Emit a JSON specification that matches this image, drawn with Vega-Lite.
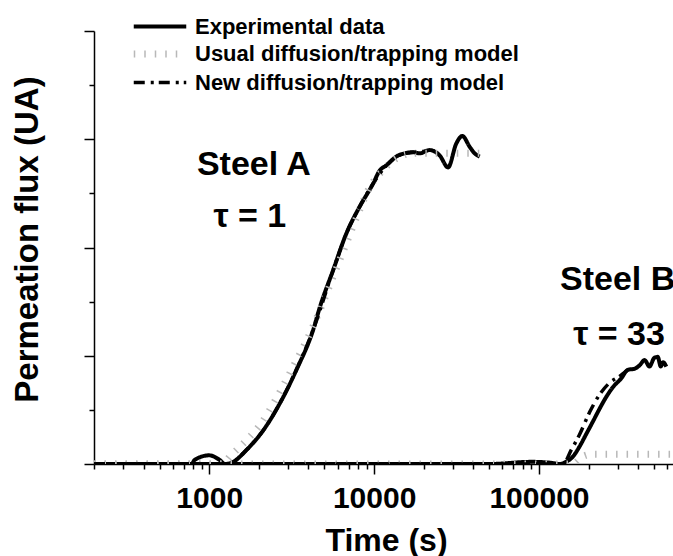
{
  "$schema": "https://vega.github.io/schema/vega-lite/v6.json",
  "autosize": "none",
  "width": 579,
  "height": 433,
  "padding": {"left": 94, "top": 31, "right": 0, "bottom": 92},
  "background": "white",
  "config": {
    "view": {"stroke": null},
    "font": "Liberation Sans",
    "axis": {"grid": false, "domainColor": "black", "domainWidth": 1.5, "tickColor": "black", "tickWidth": 1.5}
  },
  "datasets": {
    "curves": [
      {"t": 200, "v": 0, "series": "Experimental data", "steel": "A"},
      {"t": 500, "v": 0, "series": "Experimental data", "steel": "A"},
      {"t": 780, "v": 0, "series": "Experimental data", "steel": "A"},
      {"t": 818, "v": 0.04, "series": "Experimental data", "steel": "A"},
      {"t": 1000, "v": 0.08, "series": "Experimental data", "steel": "A"},
      {"t": 1150, "v": 0.04, "series": "Experimental data", "steel": "A"},
      {"t": 1245, "v": 0.0, "series": "Experimental data", "steel": "A"},
      {"t": 1397, "v": 0.02, "series": "Experimental data", "steel": "A"},
      {"t": 1683, "v": 0.13, "series": "Experimental data", "steel": "A"},
      {"t": 2124, "v": 0.31, "series": "Experimental data", "steel": "A"},
      {"t": 2680, "v": 0.56, "series": "Experimental data", "steel": "A"},
      {"t": 3380, "v": 0.87, "series": "Experimental data", "steel": "A"},
      {"t": 4270, "v": 1.24, "series": "Experimental data", "steel": "A"},
      {"t": 4690, "v": 1.45, "series": "Experimental data", "steel": "A"},
      {"t": 5640, "v": 1.79, "series": "Experimental data", "steel": "A"},
      {"t": 6790, "v": 2.13, "series": "Experimental data", "steel": "A"},
      {"t": 8190, "v": 2.38, "series": "Experimental data", "steel": "A"},
      {"t": 9860, "v": 2.59, "series": "Experimental data", "steel": "A"},
      {"t": 10800, "v": 2.71, "series": "Experimental data", "steel": "A"},
      {"t": 11900, "v": 2.76, "series": "Experimental data", "steel": "A"},
      {"t": 14000, "v": 2.85, "series": "Experimental data", "steel": "A"},
      {"t": 17200, "v": 2.88, "series": "Experimental data", "steel": "A"},
      {"t": 18900, "v": 2.87, "series": "Experimental data", "steel": "A"},
      {"t": 21700, "v": 2.9, "series": "Experimental data", "steel": "A"},
      {"t": 25000, "v": 2.85, "series": "Experimental data", "steel": "A"},
      {"t": 28100, "v": 2.74, "series": "Experimental data", "steel": "A"},
      {"t": 31500, "v": 2.96, "series": "Experimental data", "steel": "A"},
      {"t": 34300, "v": 3.03, "series": "Experimental data", "steel": "A"},
      {"t": 38000, "v": 2.93, "series": "Experimental data", "steel": "A"},
      {"t": 40700, "v": 2.87, "series": "Experimental data", "steel": "A"},
      {"t": 43700, "v": 2.84, "series": "Experimental data", "steel": "A"},

      {"t": 200, "v": 0, "series": "Experimental data", "steel": "B"},
      {"t": 10000, "v": 0, "series": "Experimental data", "steel": "B"},
      {"t": 50000, "v": 0, "series": "Experimental data", "steel": "B"},
      {"t": 90000, "v": 0.02, "series": "Experimental data", "steel": "B"},
      {"t": 120000, "v": 0.01, "series": "Experimental data", "steel": "B"},
      {"t": 133000, "v": 0, "series": "Experimental data", "steel": "B"},
      {"t": 146000, "v": 0.02, "series": "Experimental data", "steel": "B"},
      {"t": 161000, "v": 0.07, "series": "Experimental data", "steel": "B"},
      {"t": 176000, "v": 0.16, "series": "Experimental data", "steel": "B"},
      {"t": 194000, "v": 0.28, "series": "Experimental data", "steel": "B"},
      {"t": 212000, "v": 0.39, "series": "Experimental data", "steel": "B"},
      {"t": 233000, "v": 0.51, "series": "Experimental data", "steel": "B"},
      {"t": 256000, "v": 0.62, "series": "Experimental data", "steel": "B"},
      {"t": 281000, "v": 0.71, "series": "Experimental data", "steel": "B"},
      {"t": 315000, "v": 0.79, "series": "Experimental data", "steel": "B"},
      {"t": 346000, "v": 0.87, "series": "Experimental data", "steel": "B"},
      {"t": 380000, "v": 0.88, "series": "Experimental data", "steel": "B"},
      {"t": 407000, "v": 0.91, "series": "Experimental data", "steel": "B"},
      {"t": 437000, "v": 0.96, "series": "Experimental data", "steel": "B"},
      {"t": 468000, "v": 0.9, "series": "Experimental data", "steel": "B"},
      {"t": 500000, "v": 0.98, "series": "Experimental data", "steel": "B"},
      {"t": 525000, "v": 0.99, "series": "Experimental data", "steel": "B"},
      {"t": 548000, "v": 0.9, "series": "Experimental data", "steel": "B"},
      {"t": 565000, "v": 0.94, "series": "Experimental data", "steel": "B"},
      {"t": 592000, "v": 0.9, "series": "Experimental data", "steel": "B"},

      {"t": 200, "v": 0, "series": "Usual diffusion/trapping model", "steel": "A"},
      {"t": 1200, "v": 0, "series": "Usual diffusion/trapping model", "steel": "A"},
      {"t": 1334, "v": 0.07, "series": "Usual diffusion/trapping model", "steel": "A"},
      {"t": 1683, "v": 0.22, "series": "Usual diffusion/trapping model", "steel": "A"},
      {"t": 2030, "v": 0.36, "series": "Usual diffusion/trapping model", "steel": "A"},
      {"t": 2560, "v": 0.61, "series": "Usual diffusion/trapping model", "steel": "A"},
      {"t": 3230, "v": 0.9, "series": "Usual diffusion/trapping model", "steel": "A"},
      {"t": 3890, "v": 1.14, "series": "Usual diffusion/trapping model", "steel": "A"},
      {"t": 4690, "v": 1.42, "series": "Usual diffusion/trapping model", "steel": "A"},
      {"t": 5640, "v": 1.73, "series": "Usual diffusion/trapping model", "steel": "A"},
      {"t": 6790, "v": 2.04, "series": "Usual diffusion/trapping model", "steel": "A"},
      {"t": 8190, "v": 2.35, "series": "Usual diffusion/trapping model", "steel": "A"},
      {"t": 9420, "v": 2.56, "series": "Usual diffusion/trapping model", "steel": "A"},
      {"t": 10800, "v": 2.68, "series": "Usual diffusion/trapping model", "steel": "A"},
      {"t": 14300, "v": 2.84, "series": "Usual diffusion/trapping model", "steel": "A"},
      {"t": 17200, "v": 2.87, "series": "Usual diffusion/trapping model", "steel": "A"},
      {"t": 34600, "v": 2.87, "series": "Usual diffusion/trapping model", "steel": "A"},
      {"t": 43700, "v": 2.87, "series": "Usual diffusion/trapping model", "steel": "A"},

      {"t": 200, "v": 0, "series": "Usual diffusion/trapping model", "steel": "B"},
      {"t": 160000, "v": 0, "series": "Usual diffusion/trapping model", "steel": "B"},
      {"t": 185000, "v": 0.07, "series": "Usual diffusion/trapping model", "steel": "B"},
      {"t": 210000, "v": 0.09, "series": "Usual diffusion/trapping model", "steel": "B"},
      {"t": 650000, "v": 0.09, "series": "Usual diffusion/trapping model", "steel": "B"},

      {"t": 200, "v": 0, "series": "New diffusion/trapping model", "steel": "A"},
      {"t": 1300, "v": 0, "series": "New diffusion/trapping model", "steel": "A"},
      {"t": 1683, "v": 0.13, "series": "New diffusion/trapping model", "steel": "A"},
      {"t": 2124, "v": 0.31, "series": "New diffusion/trapping model", "steel": "A"},
      {"t": 2680, "v": 0.56, "series": "New diffusion/trapping model", "steel": "A"},
      {"t": 3380, "v": 0.87, "series": "New diffusion/trapping model", "steel": "A"},
      {"t": 4270, "v": 1.24, "series": "New diffusion/trapping model", "steel": "A"},
      {"t": 5640, "v": 1.79, "series": "New diffusion/trapping model", "steel": "A"},
      {"t": 6790, "v": 2.13, "series": "New diffusion/trapping model", "steel": "A"},
      {"t": 8190, "v": 2.38, "series": "New diffusion/trapping model", "steel": "A"},
      {"t": 9860, "v": 2.59, "series": "New diffusion/trapping model", "steel": "A"},
      {"t": 11900, "v": 2.76, "series": "New diffusion/trapping model", "steel": "A"},
      {"t": 14000, "v": 2.85, "series": "New diffusion/trapping model", "steel": "A"},
      {"t": 17200, "v": 2.88, "series": "New diffusion/trapping model", "steel": "A"},
      {"t": 21700, "v": 2.89, "series": "New diffusion/trapping model", "steel": "A"},

      {"t": 200, "v": 0, "series": "New diffusion/trapping model", "steel": "B"},
      {"t": 140000, "v": 0, "series": "New diffusion/trapping model", "steel": "B"},
      {"t": 157000, "v": 0.13, "series": "New diffusion/trapping model", "steel": "B"},
      {"t": 176000, "v": 0.27, "series": "New diffusion/trapping model", "steel": "B"},
      {"t": 203000, "v": 0.48, "series": "New diffusion/trapping model", "steel": "B"},
      {"t": 233000, "v": 0.64, "series": "New diffusion/trapping model", "steel": "B"},
      {"t": 268000, "v": 0.75, "series": "New diffusion/trapping model", "steel": "B"},
      {"t": 308000, "v": 0.81, "series": "New diffusion/trapping model", "steel": "B"},
      {"t": 346000, "v": 0.87, "series": "New diffusion/trapping model", "steel": "B"}
    ],
    "labels": [
      {"t": 1866, "v": 2.76, "text": "Steel A"},
      {"t": 1763, "v": 2.28, "text": "τ = 1"},
      {"t": 300000, "v": 1.7, "text": "Steel B"},
      {"t": 306000, "v": 1.19, "text": "τ = 33"}
    ]
  },
  "resolve": {"axis": {"x": "independent", "y": "independent"}},
  "layer": [
    {
      "data": {"name": "curves"},
      "mark": {"type": "point", "opacity": 0},
      "encoding": {
        "x": {
          "field": "t", "type": "quantitative",
          "scale": {"type": "log", "domain": [200, 650000], "nice": false},
          "axis": {
            "orient": "bottom", "domain": false, "labels": false, "title": null, "tickSize": 5,
            "values": [200, 300, 400, 500, 600, 700, 800, 900, 2000, 3000, 4000, 5000, 6000, 7000, 8000, 9000, 20000, 30000, 40000, 50000, 60000, 70000, 80000, 90000, 200000, 300000, 400000, 500000, 600000]
          }
        },
        "y": {
          "field": "v", "type": "quantitative",
          "scale": {"domain": [0, 4], "nice": false, "zero": false},
          "axis": {"orient": "left", "domain": false, "labels": false, "title": null, "tickSize": 5, "values": [0.5, 1.5, 2.5, 3.5]}
        }
      }
    },
    {
      "data": {"name": "curves"},
      "mark": {"type": "line", "interpolate": "monotone", "clip": true},
      "encoding": {
        "x": {
          "field": "t", "type": "quantitative",
          "scale": {"type": "log", "domain": [200, 650000], "nice": false},
          "axis": {
            "orient": "bottom", "values": [1000, 10000, 100000], "format": "d", "tickSize": 10,
            "labelFontSize": 30, "labelFontWeight": "bold", "labelColor": "black",
            "labelBaseline": "alphabetic", "labelPadding": 33,
            "title": "Time (s)", "titleFontSize": 32, "titleFontWeight": "bold", "titleColor": "black",
            "titleBaseline": "alphabetic", "titleY": 86, "titleX": 292
          }
        },
        "y": {
          "field": "v", "type": "quantitative",
          "scale": {"domain": [0, 4], "nice": false, "zero": false},
          "axis": {
            "orient": "left", "values": [0, 1, 2, 3, 4], "labels": false, "tickSize": 10,
            "title": "Permeation flux (UA)", "titleFontSize": 33, "titleFontWeight": "bold", "titleColor": "black",
            "titleBaseline": "alphabetic", "titleX": -57, "titleY": 208, "titleAngle": -90, "titleAlign": "center"
          }
        },
        "detail": {"field": "steel"},
        "color": {
          "field": "series", "type": "nominal",
          "scale": {"domain": ["Experimental data", "Usual diffusion/trapping model", "New diffusion/trapping model"], "range": ["black", "#b8b8b8", "black"]},
          "legend": {
            "orient": "none", "legendX": 50, "legendY": -19, "title": null, "padding": 0,
            "labelFontSize": 22, "labelFontWeight": "bold", "labelColor": "black", "labelOffset": 19, "labelLimit": 0,
            "symbolType": "M-2.1,0L2.1,0", "symbolSize": 625, "rowPadding": 0
          }
        },
        "strokeDash": {
          "field": "series", "type": "nominal",
          "scale": {"domain": ["Experimental data", "Usual diffusion/trapping model", "New diffusion/trapping model"], "range": [[1, 0], [1.5, 9], [11, 6, 3, 5]]}
        },
        "strokeWidth": {
          "field": "series", "type": "nominal",
          "scale": {"type": "ordinal", "domain": ["Experimental data", "Usual diffusion/trapping model", "New diffusion/trapping model"], "range": [4, 7, 3.5]}
        },
        "order": {"field": "t", "type": "quantitative"}
      }
    },
    {
      "data": {"name": "labels"},
      "mark": {"type": "text", "fontSize": 34, "fontWeight": "bold", "color": "black", "baseline": "middle"},
      "encoding": {
        "x": {"field": "t", "type": "quantitative", "scale": {"type": "log", "domain": [200, 650000], "nice": false}, "axis": null},
        "y": {"field": "v", "type": "quantitative", "scale": {"domain": [0, 4], "nice": false, "zero": false}, "axis": null},
        "text": {"field": "text"}
      }
    }
  ]
}
